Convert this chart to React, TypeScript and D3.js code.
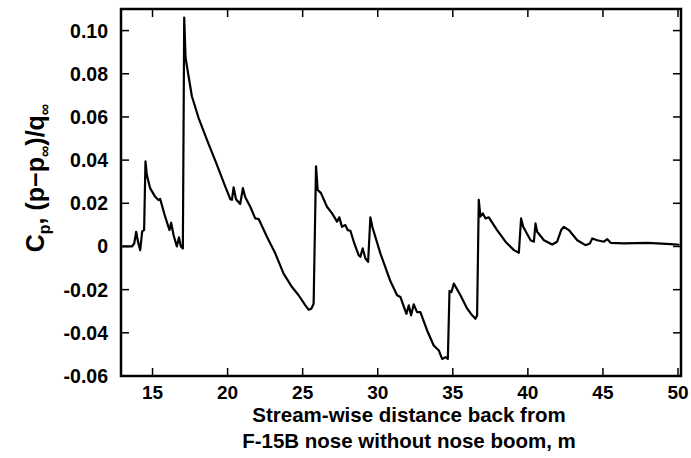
import * as d3 from 'd3'

// distance back from nose (m)
const xs = [13.0, 13.29, 13.62, 13.78, 13.91, 14.04, 14.18, 14.31, 14.44, 14.53, 14.62, 14.84, 15.18, 15.4, 15.51, 15.84, 16.13, 16.24, 16.4, 16.62, 16.76, 16.89, 17.02, 17.11, 17.2, 17.62, 18.07, 18.62, 19.29, 19.84, 20.18, 20.29, 20.4, 20.56, 20.84, 21.02, 21.18, 21.51, 21.84, 22.07, 22.62, 23.18, 23.73, 24.29, 24.73, 25.18, 25.4, 25.58, 25.73, 25.89, 26.0, 26.22, 26.62, 26.96, 27.29, 27.44, 27.62, 27.84, 28.0, 28.18, 28.44, 28.73, 28.84, 29.0, 29.18, 29.36, 29.51, 29.64, 30.18, 30.84, 31.29, 31.51, 31.91, 32.07, 32.22, 32.4, 32.62, 32.84, 33.29, 33.73, 34.07, 34.29, 34.51, 34.67, 34.78, 34.91, 35.07, 35.51, 35.96, 36.29, 36.51, 36.62, 36.73, 36.84, 37.0, 37.18, 37.4, 37.95, 38.51, 39.07, 39.4, 39.55, 39.69, 40.18, 40.4, 40.51, 40.62, 41.07, 41.62, 41.95, 42.22, 42.4, 42.73, 43.29, 43.84, 44.13, 44.29, 44.62, 45.07, 45.29, 45.51, 46.4, 47.95, 48.62, 49.51, 50.1]
// pressure coefficient
const cps = [0, 0, 0, 0.0014, 0.0068, 0.002, -0.0017, 0.007, 0.0076, 0.0394, 0.0332, 0.027, 0.023, 0.0215, 0.022, 0.0138, 0.0076, 0.011, 0.0053, 0, 0.0042, 0, -0.0009, 0.106, 0.0874, 0.0696, 0.0595, 0.0495, 0.0378, 0.0278, 0.0219, 0.0216, 0.0274, 0.0219, 0.0197, 0.027, 0.0228, 0.0184, 0.013, 0.0127, 0.0045, -0.0033, -0.0126, -0.0188, -0.0226, -0.0273, -0.0293, -0.0288, -0.0265, 0.0371, 0.0262, 0.0247, 0.0184, 0.0153, 0.0115, 0.0135, 0.0091, 0.0099, 0.0076, 0.0073, 0.0014, -0.004, -0.0048, -0.0009, -0.0056, -0.0071, 0.0135, 0.0091, -0.0033, -0.016, -0.0226, -0.0234, -0.0312, -0.0273, -0.0319, -0.0268, -0.0304, -0.0304, -0.0389, -0.0459, -0.0482, -0.0521, -0.0513, -0.0521, -0.0206, -0.0211, -0.0172, -0.0226, -0.0288, -0.0319, -0.0335, -0.0319, 0.0216, 0.0138, 0.0153, 0.013, 0.0135, 0.0076, 0.0022, -0.0017, -0.0029, 0.013, 0.0091, 0.0029, 0.0022, 0.0107, 0.0068, 0.0029, 0.0009, 0.0022, 0.0076, 0.0091, 0.0076, 0.0029, 0.0006, 0.0014, 0.0037, 0.0029, 0.0022, 0.0034, 0.0017, 0.0014, 0.0017, 0.0014, 0.0011, 0.0008]

const xTicks = [15, 20, 25, 30, 35, 40, 45, 50]
const yTicks = [0.1, 0.08, 0.06, 0.04, 0.02, 0, -0.02, -0.04, -0.06]

const L = 121, R = 681, T = 9, B = 376
const font = '"Liberation Sans", Arial, sans-serif'

export default function App() {
  const x = d3.scaleLinear().domain([12.9, 50.2]).range([L, R])
  const y = d3.scaleLinear().domain([-0.06, 0.11]).range([B, T])
  const line = d3.line<number>().x((_, i) => x(xs[i])).y((d) => y(d))
  const fmt = (v: number) => (v === 0 ? '0' : v.toFixed(2))

  return (
    <svg width={691} height={458} style={{ position: 'absolute', left: 0, top: 0 }} fontFamily={font}>
      <rect x={0} y={0} width={691} height={458} fill="#fff" />
      <path d={line(cps) ?? ''} fill="none" stroke="#000" strokeWidth={2.2} strokeLinejoin="round" />
      {xTicks.map((t) => (
        <g key={'x' + t}>
          <line x1={x(t)} x2={x(t)} y1={B} y2={B - 8} stroke="#000" strokeWidth={1.5} />
          <line x1={x(t)} x2={x(t)} y1={T} y2={T + 8} stroke="#000" strokeWidth={1.5} />
          <text x={x(t)} y={399} textAnchor="middle" fontSize={19} fontWeight="bold">{t}</text>
        </g>
      ))}
      {yTicks.map((t) => (
        <g key={'y' + t}>
          <line x1={L} x2={L + 8} y1={y(t)} y2={y(t)} stroke="#000" strokeWidth={1.5} />
          <line x1={R} x2={R - 8} y1={y(t)} y2={y(t)} stroke="#000" strokeWidth={1.5} />
          <text x={108} y={y(t) + 7} textAnchor="end" fontSize={19.5} fontWeight="bold">{fmt(t)}</text>
        </g>
      ))}
      <rect x={L} y={T} width={R - L} height={B - T} fill="none" stroke="#000" strokeWidth={2.5} />
      <text x={409} y={422} textAnchor="middle" fontSize={20.5} fontWeight="bold">Stream-wise distance back from</text>
      <text x={409} y={448} textAnchor="middle" fontSize={20.5} fontWeight="bold">F-15B nose without nose boom, m</text>
      <text transform="translate(44,178) rotate(-90)" textAnchor="middle" fontSize={25} fontWeight="bold">
        C<tspan fontSize={16} dy={6}>p</tspan>
        <tspan dy={-6}>, (p</tspan>
        <tspan>−p</tspan>
        <tspan fontSize={16} dy={6}>∞</tspan>
        <tspan dy={-6}>)/q</tspan>
        <tspan fontSize={16} dy={6}>∞</tspan>
      </text>
    </svg>
  )
}
